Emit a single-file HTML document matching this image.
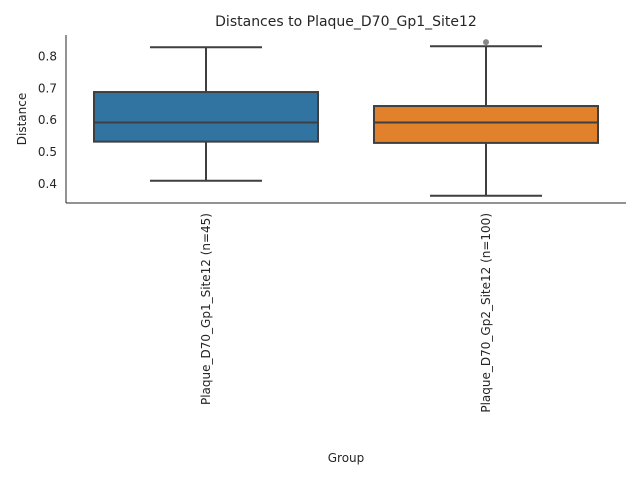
<!DOCTYPE html>
<html><head><meta charset="utf-8"><style>
body{margin:0;background:#fff;font-family:"Liberation Sans","DejaVu Sans",sans-serif}
svg text{font-family:"DejaVu Sans","Liberation Sans",sans-serif;fill:#262626}
</style></head><body>
<svg width="640" height="480" viewBox="0 0 640 480" xmlns="http://www.w3.org/2000/svg">
<text x="346" y="26" font-size="14" text-anchor="middle">Distances to Plaque_D70_Gp1_Site12</text>
<g id="axes"></g>
<g id="boxes"></g>
<text x="346" y="462" font-size="12" text-anchor="middle">Group</text>
<text transform="translate(26,119) rotate(-90)" font-size="12" text-anchor="middle">Distance</text>
</svg>
<script>
const categories=["Plaque_D70_Gp1_Site12 (n=45)","Plaque_D70_Gp2_Site12 (n=100)"];
const q1=[0.531,0.527];
const median=[0.591,0.591];
const q3=[0.687,0.643];
const whiskerLow=[0.408,0.361];
const whiskerHigh=[0.828,0.831];
const outliers=[[],[0.844]];
const yTicks=[0.4,0.5,0.6,0.7,0.8];
const colors=["#3274a1","#e1812c"];
const NS="http://www.w3.org/2000/svg";
const L=66,R=626,T=35,B=203;
function y(v){return 183.3-(v-0.4)*318;}
function xc(i){return L+(R-L)*(i+0.5)/categories.length;}
function mk(t,a,p){const e=document.createElementNS(NS,t);for(const k in a)e.setAttribute(k,a[k]);p.appendChild(e);return e;}
const ax=document.getElementById('axes'),bx=document.getElementById('boxes');
const ls=mk('line',{x1:L,y1:T,x2:L,y2:B,stroke:'#262626','stroke-width':1},ax);


const bs=mk('line',{x1:L,y1:B,x2:R,y2:B,stroke:'#262626','stroke-width':1},ax);


yTicks.forEach(v=>{const t=mk('text',{x:L-9,y:y(v)+4.5,'font-size':12,'text-anchor':'end'},ax);t.textContent=v.toFixed(1);

});
const W=224,C=112,st='#3f3f3f';
categories.forEach((c,i)=>{const cx=xc(i);
const g=mk('g',{},bx);


mk('line',{x1:cx,y1:y(whiskerHigh[i]),x2:cx,y2:y(q3[i]),stroke:st,'stroke-width':2},g);
mk('line',{x1:cx,y1:y(q1[i]),x2:cx,y2:y(whiskerLow[i]),stroke:st,'stroke-width':2},g);
mk('line',{x1:cx-C/2,y1:y(whiskerHigh[i]),x2:cx+C/2,y2:y(whiskerHigh[i]),stroke:st,'stroke-width':2},g);
mk('line',{x1:cx-C/2,y1:y(whiskerLow[i]),x2:cx+C/2,y2:y(whiskerLow[i]),stroke:st,'stroke-width':2},g);
mk('rect',{x:cx-W/2,y:y(q3[i]),width:W,height:y(q1[i])-y(q3[i]),fill:colors[i],stroke:st,'stroke-width':2},g);
mk('line',{x1:cx-W/2,y1:y(median[i]),x2:cx+W/2,y2:y(median[i]),stroke:st,'stroke-width':2},g);
outliers[i].forEach(o=>{const d=mk('circle',{cx:cx,cy:y(o),r:3,fill:'#888'},g);

});
const t=mk('text',{transform:`translate(${cx+4},${B+10}) rotate(-90)`,'font-size':12,'text-anchor':'end'},ax);
t.textContent=c;


});
</script>
</body></html>
